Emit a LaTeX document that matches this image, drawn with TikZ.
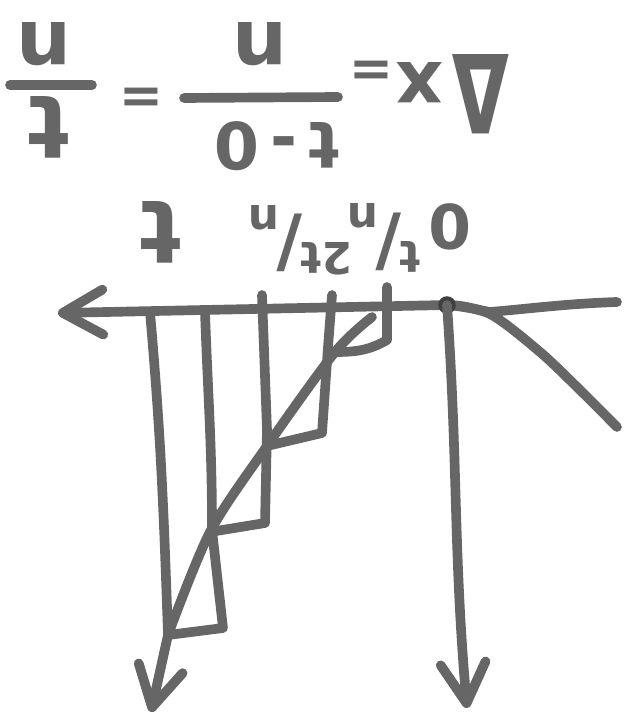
\documentclass[tikz,border=0pt]{standalone}
\usepackage{fontspec}
\setmainfont{DejaVu Sans}
\usetikzlibrary{arrows.meta}

\newcommand\slfrac[2]{{\fontsize{25}{25}\selectfont\raisebox{.5em}{#1}}\kern-.04em{\fontsize{40}{40}\selectfont/}\kern-.04em{\fontsize{25}{25}\selectfont\raisebox{-.35em}{#2}}}

\begin{document}
\begin{tikzpicture}[
  x=0.02cm, y=-0.02cm,
  stroke/.style={draw=black!60, line width=5.5pt, line cap=round, line join=round},
  barb/.style={-{Straight Barb[length=8mm, width=9mm, round]}},
  hw/.style={text=black!60, inner sep=0pt, rotate=180, font=\bfseries\fontsize{#1}{#1}\selectfont},
  hw/.default=44
]
\useasboundingbox (0,0) rectangle (638,719);

% equation, upside down as printed
\node[hw] (num1) at (44,44) {n};
\node[hw=50] (den1) at (49,127) {t};
\node[hw=30] (eq1) at (141,93) {=};
\node[hw] (num2) at (260,44) {n};
\node[hw=37] (den2) at (277,146) {t\,-\,0};
\node[hw=30] (eq2) at (371,66) {=};
\node[hw=42] (dx) at (420,83) {x};
\node[hw=62, xscale=0.68] (delta) at (481,94) {Δ};
\draw[stroke] (10,85) -- (92,85);
\draw[stroke] (184,98) -- (338,97);

% axis labels
\node[hw=50] (lt) at (160,232) {t};
\node[hw=30] (l2) at (300,240) {\slfrac{2t}{n}};
\node[hw=30] (l1) at (384,238) {\slfrac{t}{n}};
\node[hw=35] (l0) at (450,227) {0};

% axis and curve
\coordinate (o) at (447,305);
\coordinate (c1) at (168,635);
\coordinate (c2) at (210,532);
\coordinate (c3) at (267,446);
\coordinate (c4) at (335,352);
\draw[stroke, barb] (617,302) to[out=182,in=5] (490,312) to[out=170,in=0] (o) -- (58,313);
\draw[stroke] plot[smooth] coordinates {(o) (490,314) (540,352) (580,390) (617,427)};
\fill[black!75] (o) circle[radius=5pt];

% strips
\draw[stroke, barb] (150,312) to[out=-85,in=92] (c1) -- (151,712);
\draw[stroke] (205,312) to[out=-88,in=90] (212,530) -- (223,628) -- (c1);
\draw[stroke] (262,295) -- (267,430) -- (265,523) -- (c2);
\draw[stroke] (332,295) -- (328,347) -- (322,433) -- (c3);
\draw[stroke] (387,287) -- (387,340) to[out=-150,in=0] (c4);
\draw[stroke] plot[smooth] coordinates {(c1) (c2) (c3) (c4) (372,317)};
\draw[stroke, barb] (o) to[out=-86,in=95] (467,708);
\end{tikzpicture}
\end{document}
